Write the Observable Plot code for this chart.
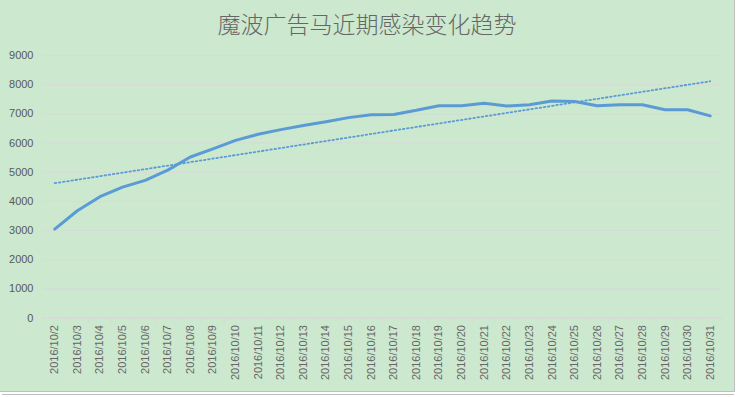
<!DOCTYPE html>
<html>
<head>
<meta charset="utf-8">
<script src="https://cdn.jsdelivr.net/npm/d3@7"></script>
<script src="https://cdn.jsdelivr.net/npm/@observablehq/plot@0.6"></script>
<style>
  html, body { margin: 0; padding: 0; background: #ffffff; }
  #frame {
    position: absolute; left: 0; top: 0; width: 734px; height: 391px;
    background: #cce8cf; border-right: 1px solid #bfbfbf; border-bottom: 1px solid #bfbfbf;
    overflow: hidden;
  }
  #below {
    position: absolute; left: 2px; top: 394px; width: 732px; height: 10px;
    border-top: 1px solid #bfbfbf; background: #ffffff;
  }
  #title {
    position: absolute; left: 0; top: 10px; width: 734px; text-align: center;
    font-family: "Noto Sans CJK SC", sans-serif; font-size: 23px; line-height: 26px;
    font-weight: 300; color: #666666;
  }
  #chart { position: absolute; left: 0; top: 40px; }
</style>
</head>
<body>
<div id="frame">
  <div id="title">魔波广告马近期感染变化趋势</div>
  <div id="chart"></div>
</div>
<div id="below"></div>
<script>
const titleText = "魔波广告马近期感染变化趋势";
const dates = [
  "2016/10/2","2016/10/3","2016/10/4","2016/10/5","2016/10/6","2016/10/7","2016/10/8",
  "2016/10/9","2016/10/10","2016/10/11","2016/10/12","2016/10/13","2016/10/14","2016/10/15",
  "2016/10/16","2016/10/17","2016/10/18","2016/10/19","2016/10/20","2016/10/21","2016/10/22",
  "2016/10/23","2016/10/24","2016/10/25","2016/10/26","2016/10/27","2016/10/28","2016/10/29",
  "2016/10/30","2016/10/31"
];
const infections = [
  3050, 3680, 4160, 4490, 4720, 5070, 5520,
  5800, 6090, 6300, 6460, 6600, 6730, 6870,
  6970, 6980, 7120, 7280, 7280, 7360, 7270,
  7310, 7440, 7420, 7280, 7310, 7310, 7140,
  7140, 6930
];
const yTicks = [0, 1000, 2000, 3000, 4000, 5000, 6000, 7000, 8000, 9000];

const data = dates.map((d, i) => ({i, date: d, value: infections[i]}));
const idx = dates.map((d, i) => i);
const bounds = dates.map((d, i) => i - 0.5).concat([dates.length - 0.5]);

const textColor = "#595959";
const gridColor = "#d9d9d9";
const lineColor = "#5b9bd5";

const chart = Plot.plot({
  width: 735,
  height: 352,
  marginTop: 15,
  marginBottom: 74,
  marginLeft: 43,
  marginRight: 13,
  style: {background: "transparent", overflow: "visible", fontFamily: "'Liberation Sans', sans-serif"},
  x: {type: "linear", domain: [-0.5, dates.length - 0.5]},
  y: {domain: [0, 9000]},
  marks: [
    Plot.gridY(yTicks, {stroke: gridColor, strokeOpacity: 1, strokeWidth: 1}),
    Plot.axisY(yTicks, {tickSize: 0, tickPadding: 10, fontSize: 11, fill: textColor, label: null, tickFormat: d => String(d)}),
    Plot.axisX(bounds, {tickSize: 5, stroke: gridColor, strokeOpacity: 1, tickFormat: () => "", label: null}),
    Plot.axisX(idx, {tickSize: 0, tickPadding: 7, tickRotate: -90, fontSize: 11, fill: "#666666", label: null, tickFormat: i => dates[i]}),
    Plot.ruleY([0], {stroke: gridColor, strokeWidth: 1}),
    Plot.linearRegressionY(data, {x: "i", y: "value", ci: 0, stroke: lineColor, strokeWidth: 1.8, strokeDasharray: "1.6,2.6"}),
    Plot.line(data, {x: "i", y: "value", stroke: lineColor, strokeWidth: 3, strokeLinejoin: "round", strokeLinecap: "round"})
  ]
});
document.getElementById("chart").appendChild(chart);
</script>
</body>
</html>
